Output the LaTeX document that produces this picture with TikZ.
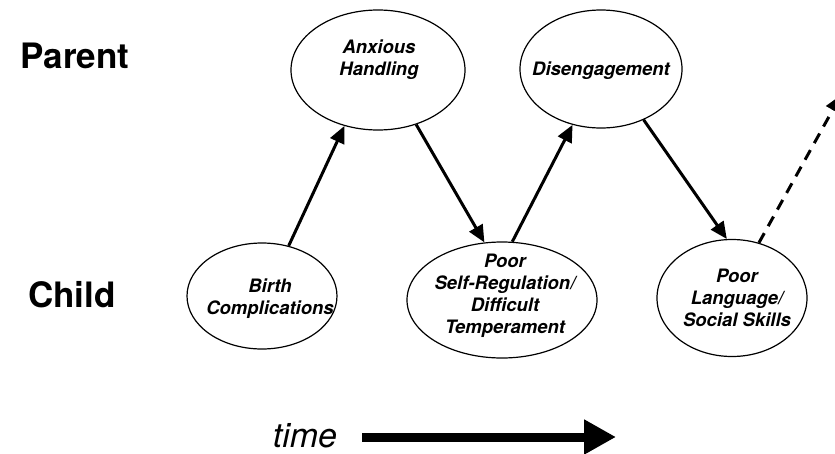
\documentclass[tikz,border=0pt]{standalone}
\usepackage{fontspec}
\setmainfont{TeX Gyre Heros}
\usetikzlibrary{shapes.geometric,arrows.meta}
\tikzset{
  oval/.style={draw, ellipse, line width=1.2pt, inner sep=0pt},
  lbl/.style={inner sep=0pt, align=center, font=\fontsize{18.5}{22}\selectfont\bfseries\itshape},
  side/.style={inner sep=0pt, anchor=base, font=\fontsize{35}{40}\selectfont\bfseries},
  link/.style={line width=3pt, -{Triangle[length=17pt,width=15pt]}},
}
\begin{document}
\begin{tikzpicture}[x=1pt,y=-1pt]
\useasboundingbox (0,0) rectangle (835,453);
\clip (0,0) rectangle (835,453);
% ellipses
\node[oval, minimum width=150pt, minimum height=106pt] (birth) at (262,296) {};
\node[oval, minimum width=174pt, minimum height=120pt] (anx) at (378,70) {};
\node[oval, minimum width=162pt, minimum height=118pt] (dis) at (601,69) {};
\node[oval, minimum width=190pt, minimum height=116pt] (poor) at (502,300) {};
\node[oval, minimum width=150pt, minimum height=117pt] (lang) at (732,298) {};
% texts
\node[lbl] (tbirth) at (270,299) {Birth\\Complications};
\node[lbl] (tanx) at (379,60) {Anxious\\Handling};
\node[lbl] (tdis) at (601,71) {Disengagement};
\node[lbl] (tpoor) at (505,296) {Poor\\Self-Regulation/\\Difficult\\Temperament};
\node[lbl] (tlang) at (737,298) {Poor\\Language/\\Social Skills};
\node[side] (parent) at (75,68) {Parent};
\node[side] (child) at (72,307) {Child};
% connectors
\draw[link] (birth.62.5) -- (anx.239);
\draw[link] (anx.305.6) -- (poor.107.3);
\draw[link] (poor.80.2) -- (dis.243.9);
\draw[link] (dis.310) -- (lang.95);
\coordinate (out) at (841,95);
\draw[link, dash pattern=on 11pt off 8pt] (lang.64) -- (out);
% time
\node[inner sep=0pt, anchor=base, font=\fontsize{34}{40}\selectfont\itshape] (time) at (305,447) {time};
\coordinate (tend) at (616,437);
\draw[line width=9pt, -{Triangle[length=32pt,width=33pt]}] (time.east |- tend) ++(25pt,0) coordinate (tstart) -- (tend);
\end{tikzpicture}
\end{document}
